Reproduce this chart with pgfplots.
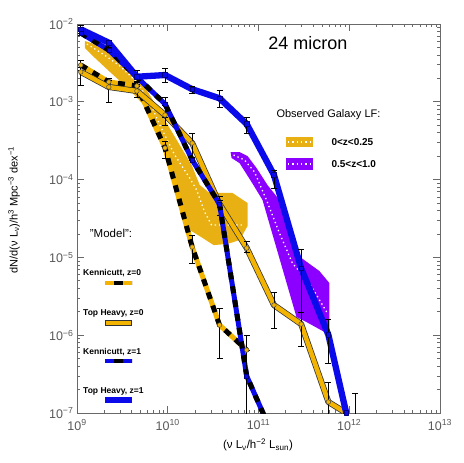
\documentclass[border=0pt]{standalone}
\usepackage{pgfplots}
\usepackage{pgfplotstable}
\pgfplotsset{compat=1.18}
\usepackage{fontspec}
\setmainfont{Liberation Sans}

\definecolor{thblue}{RGB}{10,10,235}
\definecolor{gold}{RGB}{242,180,0}
\definecolor{band}{RGB}{232,176,18}
\definecolor{violet}{RGB}{140,0,255}
\definecolor{axgray}{RGB}{105,105,105}

% model LFs: x, y, error plus, error minus
\pgfplotstableread{
x y ep em
1.10e9 8.55e-3 1.16e-3 1.33e-3
2.24e9 5.75e-3 0.48e-3 0.69e-3
4.57e9 2.10e-3 0.41e-3 0.34e-3
9.33e9 2.21e-3 0.51e-3 0.41e-3
1.86e10 1.45e-3 0.15e-3 0.15e-3
3.72e10 1.11e-3 2.80e-4 2.53e-4
7.41e10 5.18e-4 1.20e-4 1.21e-4
1.48e11 1.15e-4 1.80e-5 3.70e-5
2.95e11 7.24e-6 5.56e-6 5.25e-6
5.89e11 1.01e-6 6.10e-7 5.71e-7
9.27e11 1.00e-7 0 0
}\thzone

\pgfplotstableread{
x y ep em
1.10e9 2.42e-3 3.80e-4 7.76e-4
2.24e9 1.55e-3 3.57e-4 5.56e-4
4.57e9 1.376e-3 3.17e-4 2.24e-4
9.33e9 6.77e-4 2.33e-4 1.74e-4
1.86e10 2.95e-4 1.02e-4 9.98e-5
3.72e10 4.86e-5 1.29e-5 1.35e-5
7.41e10 1.32e-5 3.04e-6 1.47e-6
1.48e11 2.44e-6 1.15e-6 1.20e-6
2.95e11 1.39e-6 6.00e-7 6.64e-7
5.89e11 1.385e-7 1.115e-7 7.80e-8
9.27e11 1.00e-7 0 0
}\thzzero

\pgfplotstableread{
x y ep em
1.10e9 2.97e-3 4.8e-4 4.1e-4
2.24e9 1.80e-3 2.2e-4 2.0e-4
4.57e9 1.60e-3 2.5e-4 2.24e-4
9.33e9 2.55e-4 5.2e-5 6.72e-5
1.86e10 1.36e-5 5.8e-6 5.13e-6
3.72e10 1.352e-6 8.88e-7 8.43e-7
7.41e10 6.45e-7 0 0
}\kenzero

\pgfplotstableread{
x y ep em
1.10e9 7.66e-3 0 0
2.24e9 4.63e-3 0 0
4.57e9 2.08e-3 0 0
9.33e9 9.37e-4 2.15e-4 2.99e-4
1.86e10 1.786e-4 0 0
3.72e10 4.86e-5 5e-6 5e-6
7.41e10 2.99e-7 7.11e-7 2.89e-7
1.48e11 4.77e-8 0 0
}\kenone

\pgfplotsset{
  ebar/.style={error bars/.cd, y dir=both, y explicit,
    error bar style={draw=black, line width=0.7pt, solid},
    error mark options={draw=black, line width=0.7pt, mark size=3pt, solid, rotate=90}},
}

\begin{document}
\begin{tikzpicture}
\begin{axis}[
  at={(0pt,0pt)}, anchor=south west,
  scale only axis, width=363pt, height=389pt,
  xmode=log, ymode=log,
  xmin=1e9, xmax=1e13, ymin=1e-7, ymax=1e-2,
  axis line style={axgray, line width=0.8pt},
  every tick/.style={axgray, line width=0.7pt},
  tick align=inside,
  major tick length=7pt, minor tick length=3.5pt,
  xtick={1e9,1e10,1e11,1e12,1e13},
  xticklabels={10\textsuperscript{9},10\textsuperscript{10},10\textsuperscript{11},10\textsuperscript{12},10\textsuperscript{13}},
  minor xtick={2e9,3e9,4e9,5e9,6e9,7e9,8e9,9e9,2e10,3e10,4e10,5e10,6e10,7e10,8e10,9e10,2e11,3e11,4e11,5e11,6e11,7e11,8e11,9e11,2e12,3e12,4e12,5e12,6e12,7e12,8e12,9e12},
  ytick={1e-7,1e-6,1e-5,1e-4,1e-3,1e-2},
  yticklabels={10\textsuperscript{−7},10\textsuperscript{−6},10\textsuperscript{−5},10\textsuperscript{−4},10\textsuperscript{−3},10\textsuperscript{−2}},
  minor ytick={2e-7,3e-7,4e-7,5e-7,6e-7,7e-7,8e-7,9e-7,2e-6,3e-6,4e-6,5e-6,6e-6,7e-6,8e-6,9e-6,2e-5,3e-5,4e-5,5e-5,6e-5,7e-5,8e-5,9e-5,2e-4,3e-4,4e-4,5e-4,6e-4,7e-4,8e-4,9e-4,2e-3,3e-3,4e-3,5e-3,6e-3,7e-3,8e-3,9e-3},
  ticklabel style={font=\fontsize{12.5}{12}\selectfont, text=black!65},
  xticklabel style={yshift=-3pt},
]
% observed LF, 0<z<0.25
\addplot[fill=band, draw=none] coordinates {
(1.22e9,6.05e-3) (1.93e9,5.06e-3) (2.97e9,3.66e-3) (4.56e9,2.28e-3) (6.34e9,1.22e-3)
(9.27e9,5.83e-4) (1.355e10,2.78e-4) (1.835e10,1.54e-4) (2.25e10,8.52e-5) (2.89e10,6.73e-5)
(5.18e10,6.73e-5) (7.57e10,5.00e-5) (7.57e10,2.53e-5) (6.18e10,1.67e-5) (4.56e10,1.49e-5)
(3.20e10,1.44e-5) (2.42e10,1.78e-5) (1.745e10,2.25e-5) (1.29e10,5.47e-5) (1.05e10,1.33e-4)
(8.17e9,3.23e-4) (6.34e9,7.39e-4) (5.18e9,9.65e-4) (3.635e9,1.50e-3) (2.305e9,2.42e-3)
(1.577e9,3.66e-3) (1.22e9,4.91e-3)} -- cycle;
% observed LF, 0.5<z<1.0
\addplot[fill=violet, draw=none] coordinates {
(4.92e10,2.26e-4) (6.18e10,2.26e-4) (7.57e10,2.01e-4) (9.51e10,1.41e-4) (1.256e11,8.52e-5)
(1.70e11,5.47e-5) (1.88e11,3.72e-5) (2.19e11,1.83e-5) (2.97e11,9.82e-6) (4.68e11,6.69e-6)
(6.03e11,4.69e-6) (6.03e11,1.166e-6) (5.59e11,1.067e-6) (3.37e11,1.478e-6) (2.62e11,1.713e-6)
(1.107e11,5.47e-5) (8.38e10,9.31e-5) (6.18e10,1.63e-4) (5.05e10,1.895e-4)} -- cycle;
\addplot[white, line width=1.3pt, dash pattern=on 1.3pt off 3pt] coordinates {
(1.288e9,5.53e-3) (1.93e9,4.12e-3) (2.97e9,2.885e-3) (4.56e9,1.80e-3) (6.34e9,9.94e-4)
(8.17e9,5.03e-4) (1.194e10,2.07e-4) (1.745e10,1.048e-4) (2.08e10,7.35e-5) (2.55e10,3.83e-5)
(3.04e10,2.61e-5) (7.02e10,2.61e-5)};
\addplot[white, line width=1.3pt, dash pattern=on 1.3pt off 3pt] coordinates {
(5.31e10,2.07e-4) (7.02e10,1.786e-4) (9.04e10,1.252e-4) (1.224e11,5.47e-5) (1.70e11,2.06e-5)
(2.36e11,8.47e-6) (3.635e11,4.69e-6) (5.73e11,1.929e-6)};

% Kennicutt, z=0
\addplot[gold, line width=5pt, line join=round] table[x=x, y=y] {\kenzero};
\addplot[black, line width=5pt, dash pattern=on 7pt off 7pt, mark=*, mark size=2.3pt,
  mark options={solid, fill=gold, draw=black!70, line width=0.5pt}, ebar]
  table[x=x, y=y, y error plus=ep, y error minus=em] {\kenzero};
% Top Heavy, z=0
\addplot[black!80, line width=6pt, line join=round] table[x=x, y=y] {\thzzero};
\addplot[gold, line width=4.5pt, line join=round, mark=*, mark size=2.3pt,
  mark options={fill=gold, draw=black!70, line width=0.5pt}, ebar]
  table[x=x, y=y, y error plus=ep, y error minus=em] {\thzzero};
% Kennicutt, z=1
\addplot[thblue, line width=5pt, line join=round] table[x=x, y=y] {\kenone};
\addplot[black, line width=5pt, dash pattern=on 7pt off 7pt, mark=square*, mark size=2pt,
  mark options={solid, fill=thblue, draw=blue!50!black, line width=0.5pt}, ebar]
  table[x=x, y=y, y error plus=ep, y error minus=em] {\kenone};
% Top Heavy, z=1
\addplot[thblue, line width=6.3pt, line join=round, mark=square*, mark size=2.3pt,
  mark options={fill=thblue, draw=blue!50!black, line width=0.5pt}, ebar]
  table[x=x, y=y, y error plus=ep, y error minus=em] {\thzone};
% bin below the plotted range
\addplot[only marks, mark=*, mark options={draw=none, fill=none}, ebar]
  coordinates {(1.17e12,5e-8) += (0,1.31e-7) -= (0,4e-8)};
\end{axis}

% title and labels
\node[font=\fontsize{18}{18}\selectfont] at (231pt,370pt) {24 micron};
\node[font=\fontsize{11.5}{12}\selectfont] at (181pt,-32pt)
  {(ν L\textsubscript{ν}/h\textsuperscript{−2} L\textsubscript{sun})};
\node[font=\fontsize{11}{12}\selectfont, rotate=90] at (-63pt,203pt)
  {dN/d(ν L\textsubscript{ν})/h\textsuperscript{3} Mpc\textsuperscript{−3} dex\textsuperscript{−1}};

% model key
\node[font=\fontsize{11.5}{12}\selectfont] at (34pt,180pt) {"Model":};
\begin{scope}[every node/.style={anchor=west, inner sep=0pt, font=\fontsize{8.5}{9}\selectfont\bfseries}]
\node at (6pt,140pt) {Kennicutt, z=0};
\node at (6pt,100pt) {Top Heavy, z=0};
\node at (6pt,61pt) {Kennicutt, z=1};
\node at (6pt,22pt) {Top Heavy, z=1};
\end{scope}
\draw[gold, line width=4.5pt] (28pt,130pt) -- (55pt,130pt);
\draw[black, line width=4.5pt, dash pattern=on 9pt off 9pt, dash phase=-9pt] (28pt,130pt) -- (55pt,130pt);
\draw[black!80, line width=5.6pt] (28pt,90pt) -- (55pt,90pt);
\draw[gold, line width=4.2pt] (28.7pt,90pt) -- (54.3pt,90pt);
\draw[thblue, line width=4.5pt] (28pt,52pt) -- (55pt,52pt);
\draw[black, line width=4.5pt, dash pattern=on 9pt off 9pt, dash phase=-9pt] (28pt,52pt) -- (55pt,52pt);
\draw[thblue, line width=5pt] (28pt,13pt) -- (55pt,13pt);

% observed key
\node[anchor=west, font=\fontsize{11}{12}\selectfont] at (196pt,298pt) {Observed Galaxy LF:};
\fill[band] (209pt,266pt) rectangle (236pt,276pt);
\draw[white, line width=1.3pt, dash pattern=on 1.3pt off 3pt] (211pt,271pt) -- (234pt,271pt);
\node[anchor=west, font=\fontsize{10}{11}\selectfont\bfseries] at (251pt,271pt) {0<z<0.25};
\fill[violet] (209pt,243pt) rectangle (236pt,255pt);
\draw[white, line width=1.3pt, dash pattern=on 1.3pt off 3pt] (211pt,249pt) -- (234pt,249pt);
\node[anchor=west, font=\fontsize{10}{11}\selectfont\bfseries] at (251pt,249pt) {0.5<z<1.0};

\pgfresetboundingbox
\path (-77pt,-50pt) rectangle (386pt,413pt);
\end{tikzpicture}
\end{document}
